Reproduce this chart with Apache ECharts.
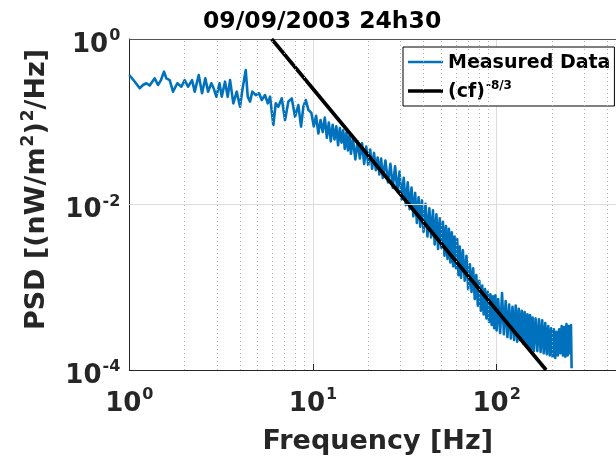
<!DOCTYPE html>
<html><head><meta charset="utf-8">
<script src="https://cdn.jsdelivr.net/npm/echarts@6/dist/echarts.min.js"></script>
<style>html,body{margin:0;padding:0;background:#fff}#c{width:616px;height:459px}</style>
</head><body><div id="c"></div>
<script>
const titleText = '09/09/2003 24h30';
const xLabel = 'Frequency [Hz]';
const seriesNames = ['Measured Data', '(cf)^-8/3'];

// Measured PSD (frequency in Hz, PSD values)
const freq = [
  1.0, 1.025, 1.074, 1.139, 1.188, 1.238, 1.291, 1.375, 1.433, 1.488,
  1.545, 1.591, 1.66, 1.73, 1.826, 1.92, 2.003, 2.088, 2.195, 2.271,
  2.388, 2.489, 2.594, 2.684, 2.797, 2.875, 2.978, 3.099, 3.186, 3.32,
  3.435, 3.536, 3.685, 3.846, 4.008, 4.126, 4.305, 4.414, 4.543, 4.676,
  4.881, 5.087, 5.262, 5.484, 5.673, 5.839, 6.085, 6.271, 6.478, 6.761,
  7.047, 7.345, 7.664, 7.988, 8.326, 8.613, 8.866, 9.137, 9.441,
  9.8, 10.1, 10.4, 10.7, 11.0, 11.3, 11.6, 11.9, 12.2, 12.5, 12.8, 13.1, 13.4, 13.7, 14.0, 14.3, 14.6, 14.9, 15.2, 15.5, 15.8, 16.1,
  16.5, 17, 17.5, 18, 18.5, 19, 19.5, 20, 20.5, 21, 21.5, 22, 22.5, 23, 23.5, 24,
  24.8, 25.6, 26.4, 27.2, 28, 28.8, 29.6, 30.4, 31.2, 32, 32.8, 33.6, 34.4, 35.2, 36, 36.8, 37.6, 38.4, 39.2, 40,
  41, 42, 43, 44, 45, 46, 47, 48, 49, 50, 51, 52, 53, 54, 55, 56, 57, 58, 59, 60, 61, 62, 63, 64,
  65.5, 67, 68.5, 70, 71.5, 73, 74.5, 76, 77.5, 79, 80.5, 82, 83.5, 85, 86.5, 88, 89.5, 91, 92.5, 94, 95.5, 97, 98.5, 100,
  102, 104.5, 107, 109.5, 112, 114.5, 117, 119.5, 122, 124.5, 127, 129.5, 132, 134.5, 137, 139.5, 142, 144.5, 147, 149.5, 152, 154.5, 157, 159.5,
  163, 166.5, 170, 173.5, 177, 180.5, 184, 187.5, 191, 194.5, 198, 201.5, 205, 208.5, 212, 215.5, 219, 222.5, 226, 229.5, 233, 236.5, 240, 243.5, 247, 250.5, 254, 256
];
const psd = [
  0.367, 0.350, 0.302, 0.254, 0.278, 0.292, 0.274, 0.335, 0.278, 0.319,
  0.403, 0.335, 0.319, 0.231, 0.292, 0.265, 0.319, 0.265, 0.319, 0.231,
  0.367, 0.221, 0.335, 0.231, 0.292, 0.256, 0.201, 0.292, 0.201, 0.305,
  0.201, 0.319, 0.167, 0.231, 0.152, 0.242, 0.422, 0.201, 0.175, 0.231,
  0.210, 0.221, 0.183, 0.210, 0.167, 0.201, 0.0913, 0.167, 0.152, 0.192,
  0.105, 0.175, 0.192, 0.115, 0.159, 0.0871, 0.152, 0.183, 0.139,
  0.128, 0.088, 0.118, 0.072, 0.105, 0.075, 0.112, 0.064, 0.098, 0.058, 0.092, 0.061, 0.088, 0.052, 0.084, 0.056, 0.079, 0.047, 0.074, 0.045, 0.068, 0.041,
  0.063, 0.035, 0.058, 0.036, 0.055, 0.031, 0.050, 0.030, 0.046, 0.027, 0.042, 0.026, 0.037, 0.023, 0.036, 0.021,
  0.034, 0.0185, 0.031, 0.016, 0.029, 0.0145, 0.025, 0.0115, 0.021, 0.0098, 0.0185, 0.0088, 0.016, 0.0072, 0.0138, 0.006, 0.0122, 0.0054, 0.0112, 0.0047,
  0.0102, 0.0041, 0.009, 0.004, 0.0085, 0.0033, 0.0076, 0.0029, 0.0068, 0.003, 0.0062, 0.0024, 0.0055, 0.0022, 0.0051, 0.002, 0.0046, 0.0018, 0.0041, 0.0017, 0.0038, 0.0014, 0.0031, 0.0013,
  0.0028, 0.0012, 0.0024, 0.00095, 0.0019, 0.00088, 0.0017, 0.00072, 0.0014, 0.0006, 0.0012, 0.00052, 0.00105, 0.00047, 0.00095, 0.00042, 0.00088, 0.00038, 0.00082, 0.00035, 0.00078, 0.00032, 0.0008, 0.0003,
  0.00072, 0.00028, 0.00085, 0.00027, 0.00068, 0.00025, 0.00062, 0.00024, 0.00058, 0.00023, 0.0006, 0.00022, 0.00055, 0.00023, 0.00052, 0.00021, 0.0005, 0.0002, 0.00047, 0.00019, 0.00046, 0.00018, 0.00043, 0.00017,
  0.00042, 0.00017, 0.00041, 0.000165, 0.0004, 0.00016, 0.00037, 0.000155, 0.00034, 0.00015, 0.00032, 0.000145, 0.00031, 0.00014, 0.00029, 0.00015, 0.00031, 0.00016, 0.00034, 0.00015, 0.00033, 0.000145, 0.00036, 0.00015, 0.00034, 0.00016, 0.00035, 0.000105
];

// (cf)^-8/3 reference line, end points where it meets the axes
const fitFreq = [5.96, 186];
const fitPsd = [1, 0.0001];

// grid positions
const xMinorGrid = [2, 3, 4, 5, 6, 7, 8, 9, 20, 30, 40, 50, 60, 70, 80, 90, 200, 300, 400, 500, 600];
const yMajorGrid = [0.01];

const FONT = 'DejaVu Sans';
const AX = '#262626';
const BLUE = '#0072BD';
const BLUE_W = 2.6;
const BLACK_W = 3.6;

const measured = freq.map((f, i) => [f, psd[i]]);
const fitData = fitFreq.map((f, i) => [f, fitPsd[i]]);

function supLabel(v) {
  const e = Math.round(Math.log10(v));
  return '{b|10}{s|' + e + '}';
}
const richTick = {
  b: { fontFamily: FONT, fontWeight: 'bold', fontSize: 26, color: AX, verticalAlign: 'bottom' },
  s: { fontFamily: FONT, fontWeight: 'bold', fontSize: 16, color: AX, verticalAlign: 'top', padding: [8, 0, 14, 1] }
};

const chart = echarts.init(document.getElementById('c'), null, { renderer: 'canvas' });
chart.setOption({
  animation: false,
  backgroundColor: '#fff',
  title: {
    text: titleText, left: 203, top: 10, padding: 0,
    textStyle: { fontFamily: FONT, fontWeight: 'bold', fontSize: 23.5, color: '#000' }
  },
  grid: { left: 129.3, top: 39, width: 551, height: 331, containLabel: false, outerBoundsMode: 'none' },
  legend: {
    orient: 'vertical', left: 403, top: 47,
    itemWidth: 35, itemHeight: 14, itemGap: 7,
    padding: [4, 4, 4, 5],
    backgroundColor: '#fff', borderColor: '#000', borderWidth: 1, borderRadius: 0,
    symbolKeepAspect: true,
    data: [
      { name: seriesNames[0], icon: 'path://M0,0H35V' + BLUE_W + 'H0Z' },
      { name: seriesNames[1], icon: 'path://M0,0H35V' + BLACK_W + 'H0Z' }
    ],
    formatter: function (name) {
      return name === seriesNames[0] ? '{a|Measured Data}' : '{a|(cf)}{s|-8/3}';
    },
    textStyle: {
      fontFamily: FONT, fontWeight: 'bold', fontSize: 19, color: '#000', lineHeight: 22,
      rich: {
        a: { fontFamily: FONT, fontWeight: 'bold', fontSize: 19, color: '#000', verticalAlign: 'bottom' },
        s: { fontFamily: FONT, fontWeight: 'bold', fontSize: 12, color: '#000', verticalAlign: 'top', padding: [0, 0, 9, 1] }
      }
    }
  },
  xAxis: [{
    type: 'log', logBase: 10, min: 1, max: 1000, position: 'bottom',
    axisLine: { show: true, lineStyle: { color: AX, width: 1 } },
    axisTick: { show: true, inside: true, length: 6, lineStyle: { color: AX } },
    axisLabel: { formatter: supLabel, rich: richTick, margin: 9 },
    splitLine: { show: true, lineStyle: { color: '#dcdcdc', width: 1 } },
    name: xLabel, nameLocation: 'middle', nameGap: 58,
    nameTextStyle: { fontFamily: FONT, fontWeight: 'bold', fontSize: 27, color: AX, padding: [0, 54, 0, 0] }
  }, {
    type: 'log', logBase: 10, min: 1, max: 1000, position: 'top', gridIndex: 0,
    axisLine: { show: true, lineStyle: { color: '#555', width: 1 } },
    axisTick: { show: false }, axisLabel: { show: false }, splitLine: { show: false }
  }],
  yAxis: {
    type: 'log', logBase: 10, min: 0.0001, max: 1,
    axisLine: { show: true, lineStyle: { color: AX, width: 1 } },
    axisTick: { show: false },
    splitLine: { show: false },
    axisLabel: {
      formatter: function (v) {
        const e = Math.round(Math.log10(v));
        return e % 2 === 0 ? supLabel(v) : '';
      },
      rich: richTick, margin: 9
    },
    name: '{n|PSD [(nW/m}{p|2}{n|)}{p|2}{n|/Hz]}',
    nameLocation: 'middle', nameRotate: 90, nameGap: 79,
    nameTextStyle: {
      padding: [0, 0, 0, 30],
      rich: {
        n: { fontFamily: FONT, fontWeight: 'bold', fontSize: 27, color: AX, verticalAlign: 'bottom' },
        p: { fontFamily: FONT, fontWeight: 'bold', fontSize: 17, color: AX, verticalAlign: 'top', padding: [0, 0, 13, 1] }
      }
    }
  },
  series: [{
    type: 'line', name: 'gridlines', data: [], z: 1, silent: true,
    markLine: {
      silent: true, symbol: ['none', 'none'], label: { show: false }, animation: false,
      data: xMinorGrid.map(v => ({ xAxis: v, lineStyle: { type: [1, 3], color: '#b5b5b5', width: 1 } }))
        .concat(yMajorGrid.map(v => ({ yAxis: v, lineStyle: { type: 'solid', color: '#dcdcdc', width: 1 } })))
    }
  }, {
    type: 'line', name: seriesNames[0], data: measured, showSymbol: false, symbol: 'none',
    lineStyle: { color: BLUE, width: BLUE_W, join: 'round' }, itemStyle: { color: BLUE }, z: 2
  }, {
    type: 'line', name: seriesNames[1], data: fitData, showSymbol: false, symbol: 'none',
    lineStyle: { color: '#000', width: BLACK_W }, itemStyle: { color: '#000' }, z: 3
  }]
});
</script>
</body></html>
